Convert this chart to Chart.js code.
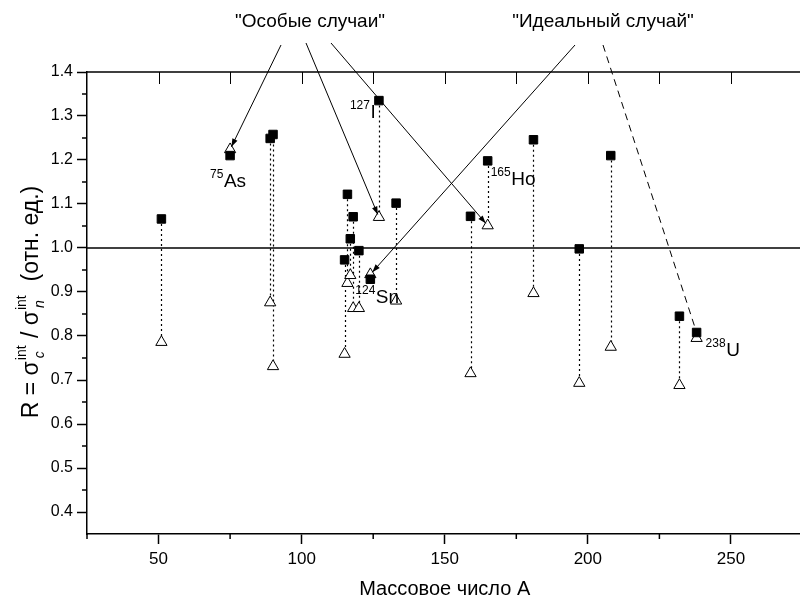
<!DOCTYPE html>
<html>
<head>
<meta charset="utf-8">
<script src="https://cdn.jsdelivr.net/npm/chart.js@4.4.1/dist/chart.umd.min.js"></script>
<style>
  html, body { margin: 0; padding: 0; background: #fff; overflow: hidden; }
  #wrap { width: 810px; height: 604px; }
</style>
</head>
<body>
<div id="wrap"><canvas id="ratioChart" width="810" height="604"></canvas></div>
<script>
// mass numbers and the two ratio series (filled squares / open triangles)
const massNumbers = [51, 75, 89, 90, 115, 116, 117, 118, 120, 124, 127, 133, 159, 165, 181, 197, 208, 232, 238]
const ratioFilled = [1.066, 1.210, 1.249, 1.258, 0.973, 1.122, 1.021, 1.071, 0.994, 0.929, 1.335, 1.102, 1.072, 1.198, 1.246, 0.998, 1.210, 0.845, 0.808]
const ratioOpen   = [0.786, 1.224, 0.876, 0.731, 0.759, 0.920, 0.938, 0.863, 0.863, 0.940, 1.070, 0.880, 0.715, 1.051, 0.897, 0.693, 0.775, 0.688, 0.795]

const xTicks = [50, 100, 150, 200, 250]
const xMinorTicks = [25, 75, 125, 175, 225, 275]
const xTopTicks = [50, 75, 100, 125, 150, 175, 200, 225, 250]
const yTicks = [0.4, 0.5, 0.6, 0.7, 0.8, 0.9, 1.0, 1.1, 1.2, 1.3, 1.4]
const yMinorTicks = [0.45, 0.55, 0.65, 0.75, 0.85, 0.95, 1.05, 1.15, 1.25, 1.35]

// labelled nuclei
const isotopeMass = [75, 127, 124, 165, 238]
const isotopeSymbol = ['As', 'I', 'Sn', 'Ho', 'U']

// callouts: title + which nuclei its arrows point at
const specialTitle = '"Особые случаи"'
const specialTargets = [75, 127, 165]
const idealTitle = '"Идеальный случай"'
const idealTargets = [124, 238]

const FONT = '"Liberation Sans", Arial, sans-serif'
Chart.defaults.font.family = FONT
Chart.defaults.color = '#000'

// label placement relative to the point (px): [dx, baselineDy, useOpen]
const labelOffsets = {
  75: [-20, 31, false],
  127: [-29, 17, false],
  124: [-15, 29, true],
  165: [3, 24, false],
  238: [9, 24, false]
}
const specialStarts = [[281, 45], [306, 43], [331, 43]]
const idealStarts = [[575, 45], [603, 45]]

function idx(a) { return massNumbers.indexOf(a) }

function drawArrow(ctx, x0, y0, x1, y1, dashed, head) {
  ctx.save()
  ctx.strokeStyle = '#000'
  ctx.fillStyle = '#000'
  ctx.lineWidth = 1
  ctx.setLineDash(dashed ? [7, 5] : [])
  ctx.beginPath()
  ctx.moveTo(x0, y0)
  ctx.lineTo(x1, y1)
  ctx.stroke()
  if (head) {
    const ang = Math.atan2(y1 - y0, x1 - x0)
    const len = 8, hw = 2.8
    ctx.setLineDash([])
    ctx.beginPath()
    ctx.moveTo(x1, y1)
    ctx.lineTo(x1 - len * Math.cos(ang) + hw * Math.sin(ang), y1 - len * Math.sin(ang) - hw * Math.cos(ang))
    ctx.lineTo(x1 - len * Math.cos(ang) - hw * Math.sin(ang), y1 - len * Math.sin(ang) + hw * Math.cos(ang))
    ctx.closePath()
    ctx.fill()
  }
  ctx.restore()
}

function drawIsotope(ctx, x, baseline, mass, sym) {
  ctx.font = '12px ' + FONT
  ctx.textBaseline = 'alphabetic'
  ctx.textAlign = 'left'
  ctx.fillText(mass, x, baseline - 9)
  const w = ctx.measureText(mass).width
  ctx.font = '19px ' + FONT
  ctx.fillText(sym, x + w + 0.5, baseline)
}

// y axis title with super/subscripts, drawn rotated
function drawYTitle(ctx, cx, cy) {
  const big = 23, small = 14
  const parts = [
    { t: 'R = σ', s: big },
    { stack: ['int', 'c'] },
    { t: ' / σ', s: big },
    { stack: ['int', 'n'] },
    { t: '  (отн. ед.)', s: big }
  ]
  ctx.save()
  const widths = parts.map(p => {
    if (p.stack) {
      ctx.font = small + 'px ' + FONT
      return Math.max(ctx.measureText(p.stack[0]).width, ctx.measureText(p.stack[1]).width) + 2
    }
    ctx.font = p.s + 'px ' + FONT
    return ctx.measureText(p.t).width
  })
  const total = widths.reduce((a, b) => a + b, 0)
  ctx.translate(cx, cy)
  ctx.rotate(-Math.PI / 2)
  ctx.fillStyle = '#000'
  ctx.textBaseline = 'alphabetic'
  let x = -total / 2
  const base = 8
  parts.forEach((p, i) => {
    if (p.stack) {
      ctx.font = small + 'px ' + FONT
      ctx.fillText(p.stack[0], x + 1, base - 12)
      ctx.font = 'italic ' + small + 'px ' + FONT
      ctx.fillText(p.stack[1], x + 3, base + 6)
    } else {
      ctx.font = p.s + 'px ' + FONT
      ctx.fillText(p.t, x, base)
    }
    x += widths[i]
  })
  ctx.restore()
}

const decorPlugin = {
  id: 'decor',
  beforeDatasetsDraw(chart) {
    const { ctx, chartArea: a, scales: { x, y } } = chart
    ctx.save()
    ctx.strokeStyle = '#000'
    // reference line R = 1
    ctx.lineWidth = 1.5
    ctx.beginPath()
    ctx.moveTo(a.left, y.getPixelForValue(1.0))
    ctx.lineTo(a.right, y.getPixelForValue(1.0))
    ctx.stroke()
    // frame top and right
    ctx.beginPath()
    ctx.moveTo(a.left, a.top)
    ctx.lineTo(a.right, a.top)
    ctx.lineTo(a.right, a.bottom)
    ctx.stroke()
    // top axis ticks, pointing in
    ctx.lineWidth = 1
    xTopTicks.forEach(v => {
      const px = Math.round(x.getPixelForValue(v)) + 0.5
      ctx.beginPath()
      ctx.moveTo(px, a.top)
      ctx.lineTo(px, a.top + 12)
      ctx.stroke()
    })
    // minor ticks, pointing out
    ctx.lineWidth = 1.5
    xMinorTicks.forEach(v => {
      const px = x.getPixelForValue(v)
      ctx.beginPath()
      ctx.moveTo(px, a.bottom)
      ctx.lineTo(px, a.bottom + 5)
      ctx.stroke()
    })
    yMinorTicks.forEach(v => {
      const py = y.getPixelForValue(v)
      ctx.beginPath()
      ctx.moveTo(a.left, py)
      ctx.lineTo(a.left - 5, py)
      ctx.stroke()
    })
    // dotted connectors between the two series
    ctx.lineWidth = 1.2
    ctx.setLineDash([2, 3])
    massNumbers.forEach((m, i) => {
      const px = Math.round(x.getPixelForValue(m)) + 0.5
      ctx.beginPath()
      ctx.moveTo(px, y.getPixelForValue(ratioFilled[i]))
      ctx.lineTo(px, y.getPixelForValue(ratioOpen[i]))
      ctx.stroke()
    })
    ctx.restore()
  },
  afterDatasetsDraw(chart) {
    const { ctx, scales: { x, y } } = chart
    ctx.save()
    // callout arrows
    const aim = (m, open, back) => {
      const i = idx(m)
      return [x.getPixelForValue(m), y.getPixelForValue(open ? ratioOpen[i] : ratioFilled[i]), back]
    }
    const shoot = (start, target, dashed, head) => {
      const [tx, ty, back] = target
      const dx = tx - start[0], dy = ty - start[1]
      const d = Math.hypot(dx, dy)
      drawArrow(ctx, start[0], start[1], tx - dx / d * back, ty - dy / d * back, dashed, head)
    }
    specialTargets.forEach((m, k) => shoot(specialStarts[k], aim(m, true, 3), false, true))
    shoot(idealStarts[0], aim(idealTargets[0], true, 3), false, true)
    shoot(idealStarts[1], aim(idealTargets[1], false, 6), true, false)

    // callout titles
    ctx.fillStyle = '#000'
    ctx.font = '19px ' + FONT
    ctx.textAlign = 'center'
    ctx.textBaseline = 'alphabetic'
    ctx.fillText(specialTitle, 310, 27)
    ctx.fillText(idealTitle, 603, 27)

    // isotope labels
    isotopeMass.forEach((m, k) => {
      const i = idx(m)
      const [dx, dy, open] = labelOffsets[m]
      const px = x.getPixelForValue(m)
      const py = y.getPixelForValue(open ? ratioOpen[i] : ratioFilled[i])
      drawIsotope(ctx, px + dx, py + dy, String(m), isotopeSymbol[k])
    })
    ctx.restore()
  },
  afterDraw(chart) {
    drawYTitle(chart.ctx, 30, 302)
  }
}

const axisCommon = {
  grid: { drawOnChartArea: false, drawTicks: true, tickLength: 10, tickColor: '#000', tickWidth: 1.5 },
  border: { display: true, color: '#000', width: 1.5 }
}

new Chart(document.getElementById('ratioChart'), {
  type: 'scatter',
  data: {
    datasets: [
      {
        label: 'filled',
        data: massNumbers.map((m, i) => ({ x: m, y: ratioFilled[i] })),
        pointStyle: 'rect',
        pointRadius: 6,
        backgroundColor: '#000',
        borderColor: '#000',
        borderWidth: 1
      },
      {
        label: 'open',
        data: massNumbers.map((m, i) => ({ x: m, y: ratioOpen[i] })),
        pointStyle: 'triangle',
        pointRadius: 6.5,
        backgroundColor: '#fff',
        borderColor: '#000',
        borderWidth: 1
      }
    ]
  },
  options: {
    responsive: false,
    animation: false,
    devicePixelRatio: 1,
    events: [],
    layout: { padding: { top: 72, right: 7, bottom: 0, left: 0 } },
    plugins: { legend: { display: false }, tooltip: { enabled: false } },
    scales: {
      x: {
        type: 'linear',
        min: 25,
        max: 275,
        afterBuildTicks: s => { s.ticks = xTicks.map(v => ({ value: v })) },
        afterFit: s => { s.height = 70 },
        ticks: { font: { size: 17 }, color: '#000', padding: 5, maxRotation: 0 },
        title: { display: true, text: 'Массовое число А', font: { size: 20 }, color: '#000', padding: { top: 4, bottom: 3 } },
        ...axisCommon
      },
      y: {
        min: 0.35,
        max: 1.4,
        afterBuildTicks: s => { s.ticks = yTicks.map(v => ({ value: v })) },
        afterFit: s => { s.width = 87 },
        ticks: { font: { size: 16 }, color: '#000', padding: 4, callback: v => v.toFixed(1) },
        ...axisCommon
      }
    }
  },
  plugins: [decorPlugin]
})
</script>
</body>
</html>
